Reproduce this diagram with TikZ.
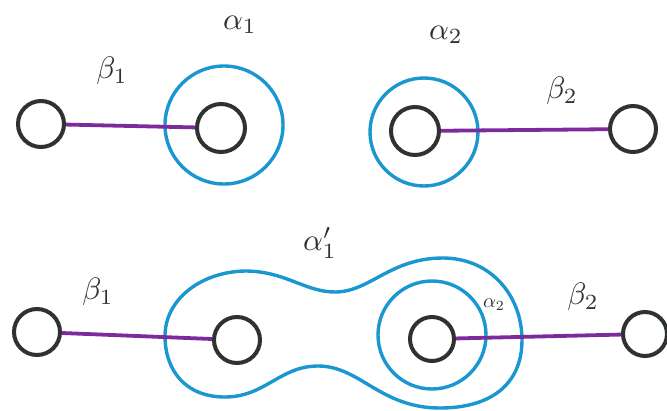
\documentclass[tikz,border=0pt]{standalone}
\usepackage{graphicx}
\usepackage{xcolor}
\definecolor{ink}{HTML}{2E332F}
\definecolor{bluecurve}{HTML}{1A96D0}
\definecolor{purplearc}{HTML}{7B2B9C}
\newcommand{\biglbl}[1]{\scalebox{3.1}{#1}}
\newcommand{\smalllbl}[1]{\scalebox{2.0}{#1}}
\begin{document}
\begin{tikzpicture}[x=1pt,y=-1pt,
  hole/.style={circle, draw=ink, line width=4pt, inner sep=0pt},
  acurve/.style={circle, draw=bluecurve, line width=3.4pt, inner sep=0pt},
  bline/.style={draw=purplearc, line width=3.8pt},
  lbl/.style={text=ink, inner sep=0pt}]
\useasboundingbox (0,0) rectangle (667,410);
% top row
\node[acurve, minimum size=118] (A1) at (224,125) {};
\node[acurve, minimum size=108] (A2) at (424,132) {};
\node[hole, minimum size=46] (h1) at (41,124) {};
\node[hole, minimum size=48] (h2) at (221,128) {};
\node[hole, minimum size=48] (h3) at (415,131) {};
\node[hole, minimum size=46] (h4) at (633,129) {};
\draw[bline] (h1) -- (h2);
\draw[bline] (h3) -- (h4);
\node[lbl] (la1) at (240,25) {\biglbl{$\alpha_1$}};
\node[lbl] (lb1) at (112,71) {\biglbl{$\beta_1$}};
\node[lbl] (la2) at (446,35) {\biglbl{$\alpha_2$}};
\node[lbl] (lb2) at (562,91) {\biglbl{$\beta_2$}};
% bottom row
\draw[bluecurve, line width=3.4pt] (165,336)
  .. controls (165,300) and (200,272) .. (245,271)
  .. controls (285,271) and (305,292) .. (335,292)
  .. controls (370,292) and (390,258) .. (443,258)
  .. controls (490,258) and (522,295) .. (522,340)
  .. controls (522,385) and (490,408) .. (440,408)
  .. controls (380,408) and (360,366) .. (318,366)
  .. controls (280,366) and (265,397) .. (225,397)
  .. controls (185,397) and (165,370) .. (165,336) -- cycle;
\node[acurve, minimum size=108] (A2b) at (432,335) {};
\node[hole, minimum size=46] (g1) at (37,332) {};
\node[hole, minimum size=46] (g2) at (237,340) {};
\node[hole, minimum size=44] (g3) at (432,339) {};
\node[hole, minimum size=44] (g4) at (645,334) {};
\draw[bline] (g1) -- (g2);
\draw[bline] (g3) -- (g4);
\node[lbl] (lb1b) at (98,292) {\biglbl{$\beta_1$}};
\node[lbl] (la1p) at (320,243) {\biglbl{$\alpha_1'$}};
\node[lbl] (la2b) at (494,305) {\smalllbl{$\alpha_2$}};
\node[lbl] (lb2b) at (583,297) {\biglbl{$\beta_2$}};
\end{tikzpicture}
\end{document}
